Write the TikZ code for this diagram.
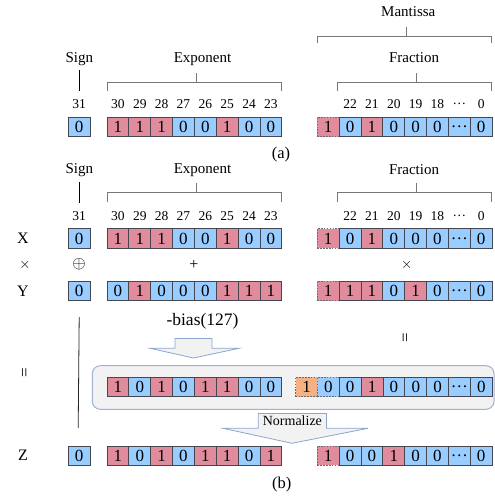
\documentclass[tikz,border=0pt]{standalone}
\usepackage{fontspec}
\setmainfont{Liberation Serif}
\usepackage{graphicx}
\definecolor{cblue}{RGB}{153,204,255}
\definecolor{cred}{RGB}{224,140,156}
\definecolor{corange}{RGB}{244,177,131}
\definecolor{cbox}{RGB}{242,242,242}
\definecolor{cboxline}{RGB}{160,178,212}
\definecolor{carrow}{RGB}{140,165,205}
\definecolor{cbrack}{RGB}{120,120,120}
\definecolor{ccell}{RGB}{70,70,80}
\tikzset{
  cell/.style={draw=ccell, line width=0.8pt, minimum width=21.85pt, minimum height=19.5pt,
    inner sep=0pt, outer sep=0pt, anchor=west, font=\fontsize{17}{17}\selectfont},
  hid/.style={draw=ccell!80, dash pattern=on 1.6pt off 1.3pt},
  bitnum/.style={font=\fontsize{13.5}{13.5}\selectfont, inner sep=0pt},
  lbl/.style={font=\fontsize{15}{15}\selectfont, inner sep=0pt},
  rowlbl/.style={font=\fontsize{16}{16}\selectfont, inner sep=0pt},
  brack/.style={draw=cbrack, line width=0.8pt},
  bigarrow/.style={fill=cbox, draw=carrow, line width=0.8pt, line join=miter},
}
\newcommand\bitrow[4]{%
  \foreach \v/\c/\s [count=\i] in {#4} {
    \node[cell, fill=\c, \s] (#1-\i) at ({#2+(\i-1)*21.85},#3) {\v};
  }%
}
\begin{document}
\begin{tikzpicture}[x=1pt,y=-1pt]
\useasboundingbox (0,0) rectangle (495,496);

% ---------------- (a) ----------------
\node[lbl] (asignl) at (79.3,59) {Sign};
\coordinate (asigt) at (79.3,70);
\coordinate (asigb) at (79.3,91);
\draw[line width=0.6pt] (asigt) -- (asigb);
\node[lbl] (aexpl) at (202.5,59) {Exponent};
\draw[brack] (107,91) -- (107,82) -- (281.5,82) -- (281.5,91) (196,82) -- (196,73);
\node[lbl] (amanl) at (408.3,12) {Mantissa};
\draw[brack] (317.7,43) -- (317.7,36) -- (491.7,36) -- (491.7,43) (406.7,36) -- (406.7,27);
\node[lbl] (afracl) at (414,58) {Fraction};
\draw[brack] (337.3,91) -- (337.3,82) -- (491.7,82) -- (491.7,91) (416,82) -- (416,73);

\node[bitnum] (an31) at (79.2,104) {31};
\foreach \n [count=\i] in {30,29,28,27,26,25,24,23}
  \node[bitnum] (ane\i) at ({107+(\i-0.5)*21.85},104) {\n};
\foreach \n [count=\i from 2] in {22,21,20,19,18,…,0}
  \node[bitnum] (anf\i) at ({317.3+(\i-0.5)*21.85},104) {\n};

\bitrow{as}{68.3}{127}{0/cblue/}
\bitrow{ae}{107}{127}{1/cred/,1/cred/,1/cred/,0/cblue/,0/cblue/,1/cred/,0/cblue/,0/cblue/}
\bitrow{af}{317.3}{127}{1/cred/hid,0/cblue/,1/cred/,0/cblue/,0/cblue/,0/cblue/,…/cblue/,0/cblue/}
\node[font=\fontsize{16.5}{16.5}\selectfont] (acap) at (281,155) {(a)};

% ---------------- (b) ----------------
\node[lbl] (bsignl) at (79.3,170) {Sign};
\coordinate (bsigt) at (79.3,182);
\coordinate (bsigb) at (79.3,203);
\draw[line width=0.6pt] (bsigt) -- (bsigb);
\node[lbl] (bexpl) at (202.5,170) {Exponent};
\draw[brack] (107,202) -- (107,192.5) -- (281.5,192.5) -- (281.5,202) (196,192.5) -- (196,183);
\node[lbl] (bfracl) at (414,170) {Fraction};
\draw[brack] (337.3,202) -- (337.3,192.5) -- (491.7,192.5) -- (491.7,202) (416,192.5) -- (416,183);

\node[bitnum] (bn31) at (79.2,216) {31};
\foreach \n [count=\i] in {30,29,28,27,26,25,24,23}
  \node[bitnum] (bne\i) at ({107+(\i-0.5)*21.85},216) {\n};
\foreach \n [count=\i from 2] in {22,21,20,19,18,…,0}
  \node[bitnum] (bnf\i) at ({317.3+(\i-0.5)*21.85},216) {\n};

% X row
\node[rowlbl] (lx) at (23,238.5) {X};
\bitrow{xs}{68.3}{238.5}{0/cblue/}
\bitrow{xe}{107}{238.5}{1/cred/,1/cred/,1/cred/,0/cblue/,0/cblue/,1/cred/,0/cblue/,0/cblue/}
\bitrow{xf}{317.3}{238.5}{1/cred/hid,0/cblue/,1/cred/,0/cblue/,0/cblue/,0/cblue/,…/cblue/,0/cblue/}

% operators
\node[font=\fontsize{14}{14}\selectfont] (opx) at (25,264.5) {$\times$};
\node[font=\fontsize{19}{19}\selectfont] (ops) at (79.2,264.5) {$\oplus$};
\node[font=\fontsize{16}{16}\selectfont] (ope) at (194,264.5) {+};
\node[font=\fontsize{14}{14}\selectfont] (opf) at (406.7,264.5) {$\times$};

% Y row
\node[rowlbl] (ly) at (23,291) {Y};
\bitrow{ys}{68.3}{291}{0/cblue/}
\bitrow{ye}{107}{291}{0/cblue/,1/cred/,0/cblue/,0/cblue/,0/cblue/,1/cred/,1/cred/,1/cred/}
\bitrow{yf}{317.3}{291}{1/cred/hid,1/cred/,1/cred/,0/cblue/,1/cred/,0/cblue/,…/cblue/,0/cblue/}

\node[font=\fontsize{17.5}{17.5}\selectfont] (bias) at (202.5,321.5) {-bias(127)};

% long sign line
\coordinate (slt) at (79.2,317);
\coordinate (slb) at (78.2,428);
\draw[line width=0.8pt, black!85] (slt) -- (slb);

% equals signs
\node[font=\fontsize{17}{17}\selectfont, rotate=90] (eql) at (26,373) {=};
\node[font=\fontsize{17}{17}\selectfont, rotate=90] (eqr) at (406.7,338) {=};

% bias arrow
\draw[bigarrow] (175,338.5) -- (212,338.5) -- (212,348.3) -- (239,348.3) -- (193.5,358) -- (150,348.3) -- (175,348.3) -- cycle;

% grey box with intermediate result
\draw[fill=cbox, draw=cboxline, line width=1pt, rounded corners=8pt] (92.3,365.7) rectangle (494,409.3);
\bitrow{me}{107}{387}{1/cred/,0/cblue/,1/cred/,0/cblue/,1/cred/,1/cred/,0/cblue/,0/cblue/}
\bitrow{mf}{295.6}{387}{1/corange/hid,0/cblue/hid,0/cblue/,1/cred/,0/cblue/,0/cblue/,0/cblue/,…/cblue/,0/cblue/}

% normalize arrow
\draw[bigarrow] (258.3,413.5) -- (326.5,413.5) -- (326.5,428.3) -- (368,428.3) -- (292,443.3) -- (223,428.3) -- (258.3,428.3) -- cycle;
\node[font=\fontsize{14}{14}\selectfont, inner sep=0pt] (norm) at (292.4,421) {Normalize};

% Z row
\node[rowlbl] (lz) at (23,455.7) {Z};
\bitrow{zs}{68.3}{455.7}{0/cblue/}
\bitrow{ze}{107}{455.7}{1/cred/,0/cblue/,1/cred/,0/cblue/,1/cred/,1/cred/,0/cblue/,1/cred/}
\bitrow{zf}{317.3}{455.7}{1/cred/hid,0/cblue/,0/cblue/,1/cred/,0/cblue/,0/cblue/,…/cblue/,0/cblue/}
\node[font=\fontsize{16.5}{16.5}\selectfont] (bcap) at (281.7,484.3) {(b)};
\end{tikzpicture}
\end{document}
